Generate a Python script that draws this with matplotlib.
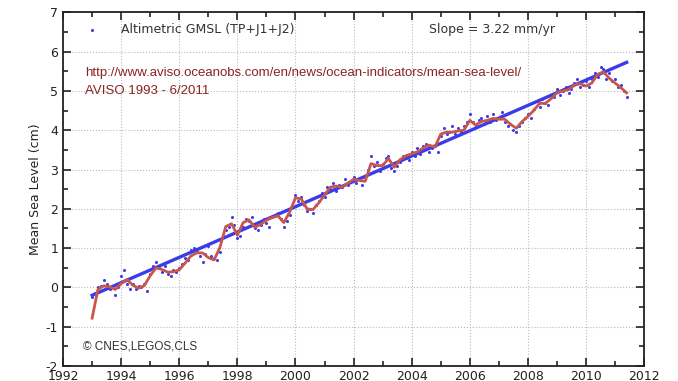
import matplotlib
matplotlib.use('Agg')
import matplotlib.pyplot as plt
import numpy as np

# smoothed GMSL (cm), every 0.2 yr from 1993.0
smooth_start = 1993.0
smooth_step = 0.2
smooth_gmsl = [
    -0.78, -0.05, 0.04, 0.02, -0.05, 0.10, 0.20, 0.06, -0.02, 0.05,
    0.30, 0.50, 0.46, 0.39, 0.40, 0.45, 0.62, 0.80, 0.88, 0.88,
    0.76, 0.70, 1.02, 1.55, 1.62, 1.33, 1.65, 1.72, 1.53, 1.60,
    1.71, 1.78, 1.82, 1.65, 1.92, 2.28, 2.25, 2.00, 1.98, 2.15,
    2.35, 2.55, 2.58, 2.55, 2.65, 2.75, 2.72, 2.70, 3.15, 3.10,
    3.10, 3.28, 3.06, 3.25, 3.35, 3.40, 3.45, 3.55, 3.62, 3.57,
    3.90, 3.95, 3.95, 3.98, 4.00, 4.25, 4.13, 4.22, 4.25, 4.30,
    4.28, 4.28, 4.15, 4.05, 4.22, 4.35, 4.50, 4.68, 4.68, 4.80,
    4.95, 5.00, 5.03, 5.15, 5.18, 5.12, 5.20, 5.42, 5.48, 5.32,
    5.20, 5.08, 4.95,
]

# raw altimetric GMSL (cm), every 0.1 yr from 1993.0
raw_start = 1993.0
raw_step = 0.1
raw_gmsl = [
    -0.25, -0.15, 0.00, 0.05, 0.20, 0.10, -0.05, 0.05, -0.20, 0.00,
    0.30, 0.45, 0.10, -0.05, 0.10, -0.05, 0.05, 0.00, 0.10, -0.10,
    0.35, 0.55, 0.65, 0.50, 0.40, 0.55, 0.35, 0.30, 0.45, 0.40,
    0.50, 0.60, 0.75, 0.70, 0.95, 1.00, 0.90, 0.80, 0.65, 0.85,
    1.05, 0.80, 0.75, 0.70, 0.90, 1.30, 1.45, 1.55, 1.80, 1.60,
    1.25, 1.30, 1.55, 1.75, 1.70, 1.80, 1.50, 1.45, 1.60, 1.75,
    1.65, 1.55, 1.80, 1.85, 1.90, 1.75, 1.55, 1.70, 1.85, 2.05,
    2.35, 2.20, 2.30, 2.10, 1.95, 2.00, 1.90, 2.10, 2.20, 2.40,
    2.30, 2.55, 2.50, 2.65, 2.45, 2.60, 2.55, 2.75, 2.60, 2.70,
    2.80, 2.65, 2.75, 2.60, 2.80, 3.00, 3.35, 3.10, 3.20, 2.95,
    3.15, 3.30, 3.35, 3.05, 2.95, 3.10, 3.20, 3.35, 3.30, 3.25,
    3.45, 3.35, 3.55, 3.40, 3.60, 3.65, 3.45, 3.55, 3.60, 3.45,
    3.85, 4.05, 3.90, 3.95, 4.10, 3.90, 4.05, 3.95, 4.10, 4.20,
    4.40, 4.20, 4.10, 4.25, 4.30, 4.15, 4.35, 4.20, 4.40, 4.25,
    4.30, 4.45, 4.20, 4.10, 4.15, 4.00, 3.95, 4.10, 4.20, 4.30,
    4.40, 4.30, 4.55, 4.75, 4.60, 4.80, 4.70, 4.65, 4.90, 4.85,
    5.05, 4.90, 5.00, 5.10, 4.95, 5.05, 5.20, 5.30, 5.10, 5.15,
    5.25, 5.10, 5.30, 5.45, 5.35, 5.60, 5.55, 5.30, 5.45, 5.25,
    5.30, 5.10, 5.15, 5.00, 4.85,
]

# linear trend
slope_mm_yr = 3.22
trend_start_value = -0.20

blue = '#3b3be8'
red = '#c8564a'
url_color = '#8b2222'

plt.rcParams['axes.unicode_minus'] = False

raw_t = raw_start + raw_step * np.arange(len(raw_gmsl))
smooth_t = smooth_start + smooth_step * np.arange(len(smooth_gmsl))
trend_t = np.array([raw_t[0], raw_t[-1]])
trend = trend_start_value + slope_mm_yr / 10.0 * (trend_t - trend_t[0])

fig = plt.figure(figsize=(6.78, 3.81), dpi=100)
ax = fig.add_axes([0.093, 0.039, 0.857, 0.929])

ax.plot(raw_t, raw_gmsl, linestyle='none', marker='o', markersize=2.2,
        color=blue, markeredgewidth=0, zorder=3)
ax.plot(trend_t, trend, color=blue, linewidth=2.4, zorder=4)
ax.plot(smooth_t, smooth_gmsl, color=red, linewidth=2.0, zorder=5)

ax.set_xlim(1992, 2012)
ax.set_ylim(-2, 7)
ax.set_xticks(np.arange(1992, 2013, 2))
ax.set_xticks(np.arange(1992, 2013, 1), minor=True)
ax.set_yticks(np.arange(-2, 8, 1))
ax.set_yticks(np.arange(-2, 7.5, 0.5), minor=True)
ax.tick_params(which='both', direction='in', top=True, right=True,
               labelsize=9, colors='#222222', width=1.2)
ax.tick_params(which='major', length=6)
ax.tick_params(which='minor', length=3.5)
ax.tick_params(axis='x', pad=3)
for s in ax.spines.values():
    s.set_linewidth(1.3)
    s.set_color('#222222')
ax.grid(True, which='major', linestyle=':', color='#bbbbbb', linewidth=0.8)
ax.set_ylabel('Mean Sea Level (cm)', fontsize=9, color='#222222')
ax.yaxis.set_label_coords(-0.036, 0.5)

ax.plot([1993.0], [6.55], linestyle='none', marker='o', markersize=2.2,
        color=blue, markeredgewidth=0)
ax.text(1994.0, 6.55, 'Altimetric GMSL (TP+J1+J2)', fontsize=9,
        color='#333333', va='center')
ax.text(2006.77, 6.55, 'Slope = %.2f mm/yr' % slope_mm_yr, fontsize=9,
        color='#333333', va='center', ha='center')
ax.text(1992.75, 5.45, 'http://www.aviso.oceanobs.com/en/news/ocean-indicators/mean-sea-level/',
        fontsize=9.5, family='Liberation Sans', color=url_color, va='center')
ax.text(1992.75, 5.0, 'AVISO 1993 - 6/2011', fontsize=9.5,
        family='Liberation Sans', color=url_color, va='center')
ax.text(1992.7, -1.5, '\u00a9 CNES,LEGOS,CLS', fontsize=8.5,
        family='Liberation Sans', color='#333333', va='center')

fig.savefig('out.png', dpi=100)
